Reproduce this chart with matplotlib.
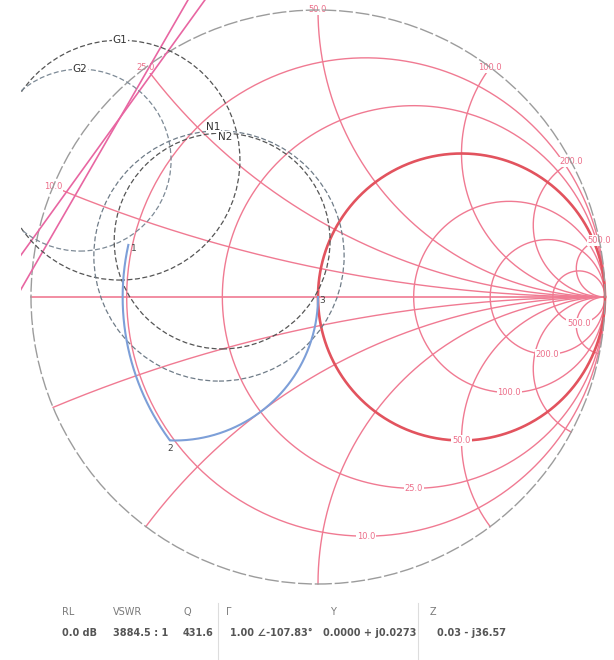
import numpy as np
import matplotlib.pyplot as plt
from matplotlib.patches import Circle, Rectangle

# ---------------------------------------------------------
# data
# ---------------------------------------------------------
Z0 = 50.0
grid_ohms = [10, 25, 50, 100, 200, 500]      # resistance circles / reactance arcs

# gain and noise circles (reflection plane: centre x, centre y, radius)
circle_names = ["G1", "G2", "N1", "N2"]
circle_cx = [-0.690, -0.829, -0.334, -0.345]
circle_cy = [0.477, 0.477, 0.195, 0.143]
circle_r = [0.418, 0.317, 0.376, 0.436]

# stability boundaries, given by two end points each
stab_x0 = [-0.453, -0.394]
stab_y0 = [1.035, 1.035]
stab_x1 = [-1.10, -1.10]
stab_y1 = [-0.086, 0.056]

# matching path: series section on constant r, shunt section on g = 1
path_r = 0.19
path_x = [0.13, -0.392]
path_b = [2.065, 0.0]

# readout bar
readout_names = ["RL", "VSWR", "Q", "Γ", "Y", "Z"]
readout_values = ["0.0 dB", "3884.5 : 1", "431.6", "1.00 ∠-107.83°",
                  "0.0000 + j0.0273", "0.03 - j36.57"]


def gamma(z):
    return (z - 1) / (z + 1)


def gamma_y(y):
    return (1 - y) / (1 + y)


W, H = 614, 660
CX, CY, R = 318, 297, 287          # chart centre and radius in pixels

fig = plt.figure(figsize=(W / 100, H / 100), dpi=100)
ax = fig.add_axes([0, 0, 1, 1])
ax.set_xlim(-CX / R, (W - CX) / R)
ax.set_ylim(-(H - CY) / R, CY / R)
ax.axis('off')

grid_col = "#f07a92"
bold_col = "#e2535e"
lab_col = "#ec6f8a"

# ---------------------------------------------------------
# Smith chart grid
# ---------------------------------------------------------
s = np.sinh(np.linspace(-10, 10, 1601))
t = np.concatenate([[0], np.logspace(-3, 4, 800)])

for ohm in grid_ohms:
    r = ohm / Z0
    g = gamma(r + 1j * s)
    if r == 1:
        ax.plot(g.real, g.imag, color=bold_col, lw=1.9, zorder=2)
    else:
        ax.plot(g.real, g.imag, color=grid_col, lw=1.0, zorder=1)
    for sign in (1, -1):
        g = gamma(t + 1j * sign * r)
        ax.plot(g.real, g.imag, color=grid_col, lw=1.0, zorder=1)

ax.plot([-1, 1], [0, 0], color=grid_col, lw=1.2, zorder=1)

box = dict(facecolor="white", edgecolor="none", pad=0.6)
for ohm in grid_ohms:
    r = ohm / Z0
    top = gamma(1j * r)
    ax.text(top.real, top.imag, f"{ohm:.1f}", color=lab_col, fontsize=6,
            ha="center", va="center", bbox=box, zorder=3)
    ax.text(r / (1 + r), -1 / (1 + r), f"{ohm:.1f}", color=lab_col,
            fontsize=6, ha="center", va="center", bbox=box, zorder=3)

# outer boundary
ax.add_patch(Circle((0, 0), 1, fill=False, ec="#9c9c9c", lw=1.0,
                    ls=(0, (10, 2)), zorder=4))

# ---------------------------------------------------------
# overlays
# ---------------------------------------------------------
clip = Rectangle((-1.035, -1.3), 2.3, 2.5, transform=ax.transData)

stab = ax.plot(np.array([stab_x0, stab_x1]), np.array([stab_y0, stab_y1]),
               color="#e866a2", lw=1.2, zorder=4)
for ln in stab:
    ln.set_clip_path(clip)

circ_cols = ["#555555", "#7d8a96", "#555555", "#6f7c88"]
label_off = [(0, 0), (0, 0), (-0.03, 0.02), (0.022, -0.02)]
for name, cx, cy, rad, col, off in zip(circle_names, circle_cx, circle_cy,
                                       circle_r, circ_cols, label_off):
    c = Circle((cx, cy), rad, fill=False, ec=col, lw=0.9,
               ls=(0, (4, 2)), zorder=5)
    ax.add_patch(c)
    c.set_clip_path(clip)
    ax.text(cx + off[0], cy + rad + off[1], name, fontsize=7.5,
            color="#333333", ha="center", va="center",
            bbox=dict(facecolor="white", edgecolor="none", pad=0.2), zorder=7)

# matching path
xs = np.linspace(path_x[0], path_x[1], 200)
seg1 = gamma(path_r + 1j * xs)
bs = np.linspace(path_b[0], path_b[1], 200)
seg2 = gamma_y(1 + 1j * bs)
pts = np.concatenate([seg1, seg2])
ax.plot(pts.real, pts.imag, color="#7d9fd8", lw=1.5, zorder=6)

for k, (p, off) in enumerate(zip([seg1[0], seg1[-1], seg2[-1]],
                                 [(0.018, -0.012), (0.0, -0.03), (0.014, -0.012)])):
    ax.text(p.real + off[0], p.imag + off[1], str(k + 1), fontsize=6.5,
            color="#444444", ha="center", va="center", zorder=7)

# ---------------------------------------------------------
# readout bar
# ---------------------------------------------------------
name_px = [62, 113, 184, 226, 330, 430]
value_px = [62, 113, 183, 230, 323, 437]
for name, v, nx_, vx in zip(readout_names, readout_values, name_px, value_px):
    fig.text(nx_ / W, 1 - 612 / H, name, fontsize=7, color="#7a7a7a",
             ha="left", va="center")
    fig.text(vx / W, 1 - 633 / H, v, fontsize=7, color="#555555",
             ha="left", va="center", fontweight="bold")

for sx in (218, 418):
    fig.add_artist(plt.Line2D([sx / W, sx / W], [0, 1 - 603 / H],
                              color="#dddddd", lw=0.8))

fig.savefig("out.png", dpi=100)
